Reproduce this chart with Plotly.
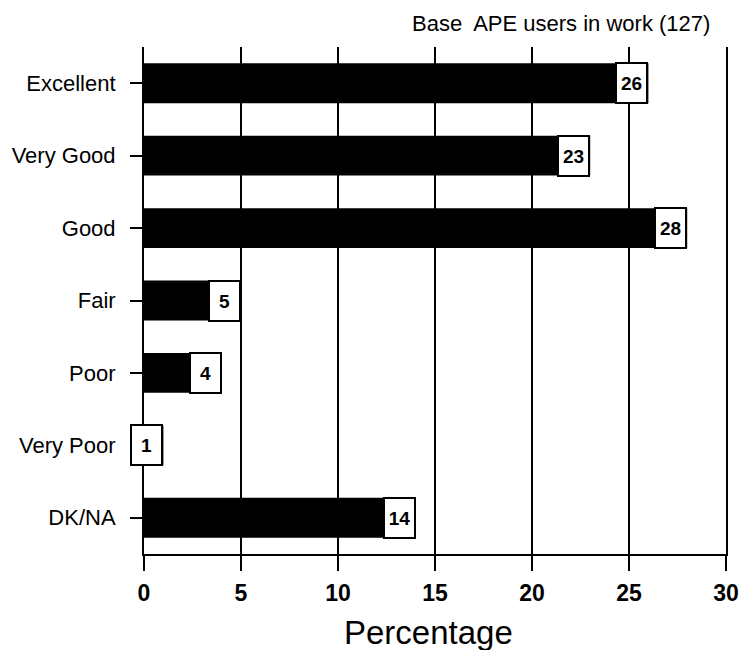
import plotly.graph_objects as go

# Survey ratings and share of respondents (%)
categories = ["Excellent", "Very Good", "Good", "Fair", "Poor", "Very Poor", "DK/NA"]
percentages = [26, 23, 28, 5, 4, 1, 14]
x_ticks = [0, 5, 10, 15, 20, 25, 30]
base_note = "Base  APE users in work (127)"
x_title = "Percentage"

FONT = "Liberation Sans, Arial, Helvetica, sans-serif"

fig = go.Figure()
fig.add_trace(go.Bar(
    x=percentages,
    y=categories,
    orientation="h",
    width=0.55,
    marker=dict(color="black", line=dict(width=0)),
    hoverinfo="x+y",
    showlegend=False,
))

# Value boxes at the end of each bar
for cat, val in zip(categories, percentages):
    fig.add_annotation(
        x=val, y=cat, xref="x", yref="y",
        text=f"<b>{val}</b>",
        showarrow=False,
        xanchor="right", yanchor="middle",
        bgcolor="white", bordercolor="black", borderwidth=2, borderpad=2,
        width=25, height=34,
        font=dict(family=FONT, size=19, color="black"),
    )

fig.add_annotation(
    x=0.976, y=1.047, xref="paper", yref="paper",
    text=base_note, showarrow=False,
    xanchor="right", yanchor="middle",
    font=dict(family=FONT, size=22, color="black"),
)
fig.add_annotation(
    x=0.488, y=-0.154, xref="paper", yref="paper",
    text=x_title, showarrow=False,
    xanchor="center", yanchor="middle",
    font=dict(family=FONT, size=33, color="black"),
)

fig.update_layout(
    width=739, height=650,
    margin=dict(l=144, r=13, t=47, b=96, autoexpand=False),
    paper_bgcolor="white", plot_bgcolor="white",
    bargap=0.45,
    xaxis=dict(
        range=[0, 30], tickvals=x_ticks, ticktext=[str(t) for t in x_ticks],
        automargin=False,
        showgrid=True, gridcolor="black", gridwidth=2,
        showline=True, linecolor="black", linewidth=2,
        ticks="outside", ticklen=15, tickwidth=2, tickcolor="black",
        ticklabelstandoff=2,
        tickfont=dict(family=FONT, size=23, color="black", weight="bold"),
        zeroline=False, fixedrange=True,
    ),
    yaxis=dict(
        categoryorder="array", categoryarray=categories,
        range=[6.5, -0.5],
        automargin=False,
        showgrid=False,
        showline=True, mirror=True, linecolor="black", linewidth=2,
        ticks="outside", ticklen=12, tickwidth=2, tickcolor="black",
        ticklabelstandoff=10,
        tickfont=dict(family=FONT, size=22, color="black"),
        zeroline=False, fixedrange=True,
    ),
)

fig.write_html("out.html")
